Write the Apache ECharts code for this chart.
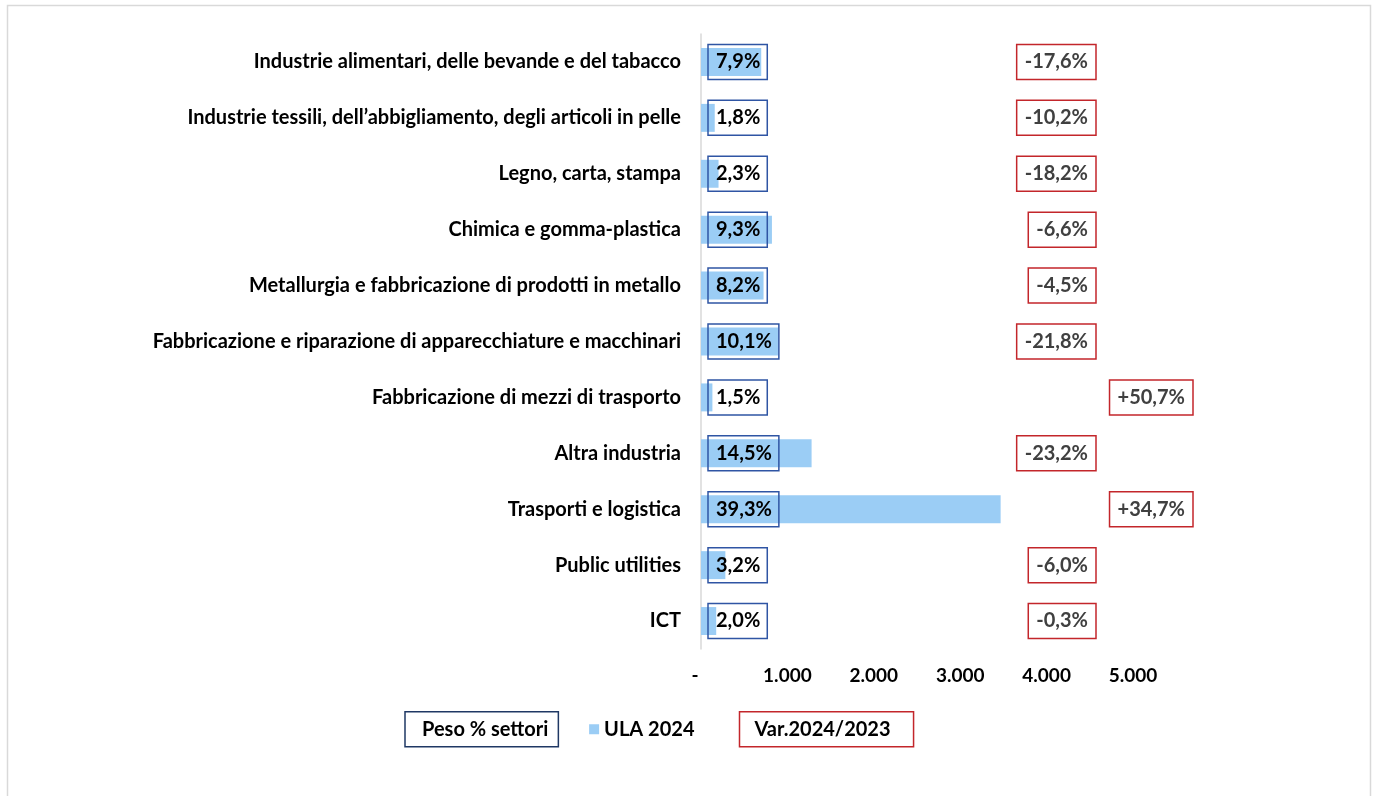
<!DOCTYPE html>
<html>
<head>
<meta charset="utf-8">
<script src="https://cdn.jsdelivr.net/npm/echarts@6/dist/echarts.min.js"></script>
<style>
  body { margin: 0; background: #fff; }
  #chart { width: 1373px; height: 796px; }
</style>
</head>
<body>
<div id="chart"></div>
<script>
// settori (dall'alto verso il basso)
var settori = [
  'Industrie alimentari, delle bevande e del tabacco',
  'Industrie tessili, dell\u2019abbigliamento, degli articoli in pelle',
  'Legno, carta, stampa',
  'Chimica e gomma-plastica',
  'Metallurgia e fabbricazione di prodotti in metallo',
  'Fabbricazione e riparazione di apparecchiature e macchinari',
  'Fabbricazione di mezzi di trasporto',
  'Altra industria',
  'Trasporti e logistica',
  'Public utilities',
  'ICT'
];
var ula2024 = [697, 159, 203, 821, 724, 891, 132, 1280, 3468, 282, 176];
var pesoSettori = [7.9, 1.8, 2.3, 9.3, 8.2, 10.1, 1.5, 14.5, 39.3, 3.2, 2.0];
var var2024 = [-17.6, -10.2, -18.2, -6.6, -4.5, -21.8, 50.7, -23.2, 34.7, -6.0, -0.3];
var xTicks = [0, 1000, 2000, 3000, 4000, 5000];

var FONT = 'Lato';
var FS = 20;
function pct(v, sign) {
  var s = Math.abs(v).toFixed(1).replace('.', ',') + '%';
  if (!sign) return s;
  return (v < 0 ? '-' : '+') + s;
}
function migliaia(v) {
  return String(v).replace(/\B(?=(\d{3})+(?!\d))/g, '.');
}

var chart = echarts.init(document.getElementById('chart'));
chart.setOption({
  animation: false,
  textStyle: { fontFamily: FONT },
  graphic: [{
    type: 'rect', left: 5, top: 3, silent: true,
    shape: { width: 1363, height: 820 },
    style: { fill: 'none', stroke: '#d9d9d9', lineWidth: 1.5 }
  }],
  grid: { left: 701, right: 240, top: 34, bottom: 147 },
  legend: {
    left: 385, top: 706,
    itemWidth: 10, itemHeight: 10, itemGap: 30,
    selectedMode: false,
    textStyle: { fontFamily: FONT, fontSize: FS, fontWeight: 'bold', color: '#000', lineHeight: 21 },
    data: [
      { name: 'Peso % settori', icon: 'none',
        textStyle: { borderColor: '#1f3864', borderWidth: 1.5, padding: [7, 10, 7, 17] } },
      { name: 'ULA 2024', icon: 'rect' },
      { name: 'Var.2024/2023', icon: 'none',
        textStyle: { borderColor: '#c3262b', borderWidth: 1.5, padding: [7, 23, 7, 15] } }
    ]
  },
  xAxis: {
    type: 'value', min: xTicks[0], max: xTicks[xTicks.length - 1], interval: 1000,
    splitLine: { show: false },
    axisLine: { show: false },
    axisTick: { show: false },
    axisLabel: {
      margin: 17, fontSize: 19, fontWeight: 'bold', color: '#000',
      formatter: function (v) { return v === 0 ? '{z|-}' : migliaia(v); },
      rich: { z: { fontSize: 19, fontWeight: 'bold', color: '#000', padding: [0, 12, 0, 0] } }
    }
  },
  yAxis: {
    type: 'category', inverse: true, data: settori,
    axisLine: { show: true, lineStyle: { color: '#d9d9d9', width: 1.5 } },
    axisTick: { show: false },
    axisLabel: { margin: 20, fontSize: FS, fontWeight: 'bold', color: '#000' }
  },
  series: [
    {
      name: 'ULA 2024', type: 'bar', data: ula2024,
      barCategoryGap: '50%', barGap: '-100%',
      itemStyle: { color: '#9bcdf5' }
    },
    {
      name: 'Peso % settori', type: 'bar', data: ula2024,
      barGap: '-100%', barCategoryGap: '50%',
      itemStyle: { color: 'transparent' },
      label: {
        show: true, position: [7, '50%'], align: 'left', verticalAlign: 'middle',
        fontSize: FS, fontWeight: 'bold', color: '#000', lineHeight: 21,
        borderColor: '#2f55a4', borderWidth: 1.5, padding: [7, 7, 7, 8],
        formatter: function (p) { return pct(pesoSettori[p.dataIndex], false); }
      }
    },
    {
      name: 'Var.2024/2023', type: 'bar',
      barGap: '-100%', barCategoryGap: '50%',
      itemStyle: { color: 'transparent' },
      data: ula2024.map(function (v, i) {
        return { value: v, label: { position: [var2024[i] < 0 ? 395 : 492, '50%'] } };
      }),
      label: {
        show: true, align: 'right', verticalAlign: 'middle',
        fontSize: FS, fontWeight: 'bold', color: '#404040', lineHeight: 21,
        borderColor: '#c3262b', borderWidth: 1.5, padding: [7, 8, 7, 8],
        formatter: function (p) { return pct(var2024[p.dataIndex], true); }
      }
    }
  ]
});
</script>
</body>
</html>
